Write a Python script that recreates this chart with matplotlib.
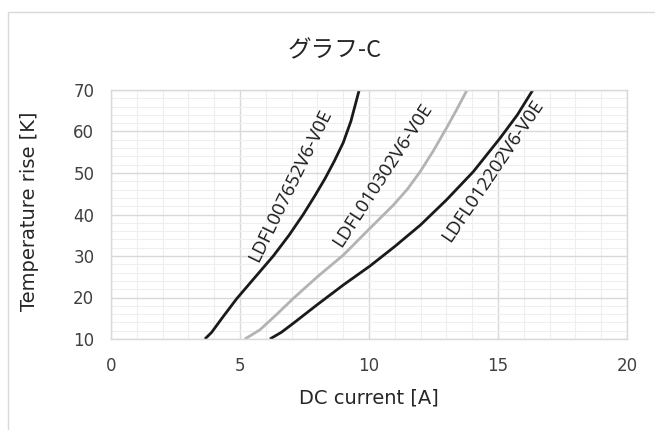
import matplotlib
matplotlib.use("Agg")
import matplotlib.pyplot as plt
from matplotlib.patches import Rectangle
from matplotlib.ticker import MultipleLocator

plt.rcParams['font.family'] = ['DejaVu Sans', 'Noto Sans CJK JP']

title = "グラフ-C"
xlabel = "DC current [A]"
ylabel = "Temperature rise [K]"

names = ["LDFL007652V6-V0E", "LDFL010302V6-V0E", "LDFL012202V6-V0E"]

c1_x = [3.64, 3.9, 4.3, 4.87, 5.6, 6.29, 6.9, 7.45, 7.9, 8.3, 8.65, 9.0, 9.3, 9.62]
c1_y = [10, 11.6, 15.0, 19.7, 25, 30, 35, 40, 44.5, 48.7, 52.8, 57.3, 62.5, 70]

c2_x = [5.19, 5.77, 6.4, 7.07, 8.0, 9.0, 10.04, 10.95, 11.5, 11.98, 12.5, 13.0, 13.4, 13.8]
c2_y = [10, 12.2, 15.8, 19.8, 25, 30.2, 36.7, 42.3, 46.2, 50.3, 55.4, 60.8, 65.3, 70]

c3_x = [6.16, 6.6, 7.07, 8.0, 9.0, 10.04, 11.0, 12.0, 13.0, 14.04, 15.08, 15.75, 16.35]
c3_y = [10, 11.6, 13.8, 18.3, 23, 27.6, 32.3, 37.5, 43.5, 50.3, 58.4, 64.0, 70]

fig = plt.figure(figsize=(6.55, 4.3), dpi=100)
ax = fig.add_axes([111/655, 1-339/430, (627-111)/655, (339-90)/430])

ax.set_xlim(0, 20)
ax.set_ylim(10, 70)
ax.xaxis.set_major_locator(MultipleLocator(5))
ax.xaxis.set_minor_locator(MultipleLocator(1))
ax.yaxis.set_major_locator(MultipleLocator(10))
ax.yaxis.set_minor_locator(MultipleLocator(2))
ax.grid(which='major', color='#d9d9d9', linewidth=1.0)
ax.grid(which='minor', color='#efefef', linewidth=0.8)
ax.set_axisbelow(True)
for s in ax.spines.values():
    s.set_color('#d9d9d9')
    s.set_linewidth(1.0)
ax.tick_params(which='both', length=0, labelsize=12, colors='#404040')
ax.tick_params(axis='y', pad=12)
ax.tick_params(axis='x', pad=13)

lw = 2.0
ax.plot(c1_x, c1_y, color='#1a1a1a', lw=lw, solid_joinstyle='round', solid_capstyle='butt')
ax.plot(c2_x, c2_y, color='#b3b3b3', lw=lw, solid_joinstyle='round', solid_capstyle='butt')
ax.plot(c3_x, c3_y, color='#1a1a1a', lw=lw, solid_joinstyle='round', solid_capstyle='butt')

label_pos = [(6.94, 47.0, 64), (10.54, 49.5, 57), (14.8, 50.5, 56)]
for name, (lx, ly, rot) in zip(names, label_pos):
    ax.text(lx, ly, name, rotation=rot, rotation_mode='anchor', ha='center', va='center',
            fontsize=13.5, color='#1a1a1a', family=['Open Sans', 'DejaVu Sans'])

fig.text(369/655, 1-398/430, xlabel, ha='center', va='center', fontsize=14, color='#262626')
fig.text(30/655, 1-211/430, ylabel, ha='center', va='center', rotation=90, fontsize=14, color='#262626')
fig.text(335/655, 1-51/430, title, ha='center', va='center', fontsize=17, color='#262626',
         family=['Noto Sans CJK JP', 'DejaVu Sans'])

fig.add_artist(Rectangle((8/655, -0.1), 1.0, 1.1 - 12/430, transform=fig.transFigure,
                         fill=False, edgecolor='#d9d9d9', linewidth=1.0))

fig.savefig('out.png', dpi=100)
